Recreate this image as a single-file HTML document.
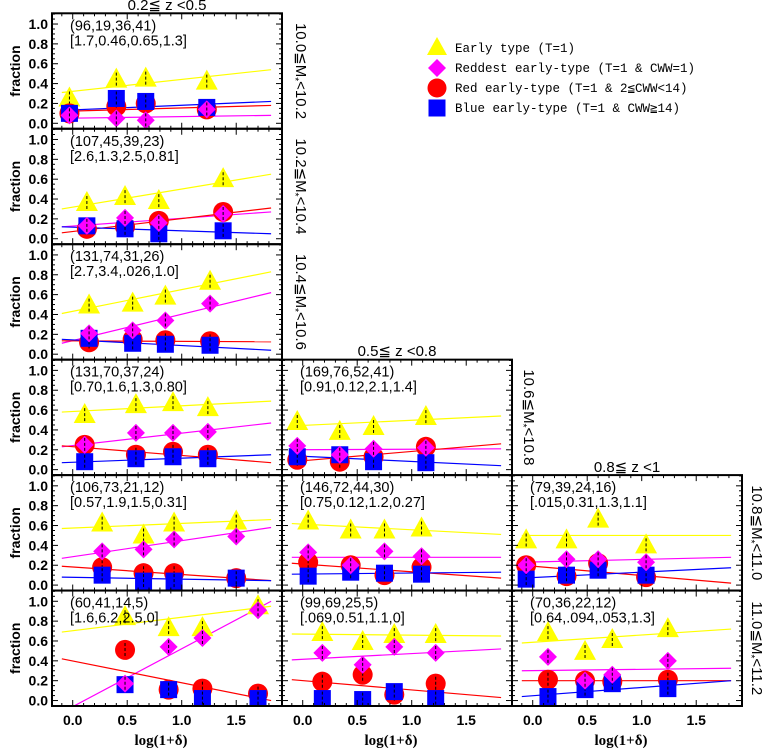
<!DOCTYPE html>
<html><head><meta charset="utf-8">
<style>
html,body{margin:0;padding:0;background:#fff;}
svg{display:block;font-family:"Liberation Sans","DejaVu Sans",sans-serif;}
.tk{font-weight:bold;font-size:14px;}
.ttl{font-weight:normal;font-size:15px;}
.ann{font-size:14.5px;}
.leg{font-family:"Liberation Mono","DejaVu Sans Mono",monospace;font-size:12.5px;}
</style></head>
<body>
<svg id="chart" width="767" height="750" viewBox="0 0 767 750" xmlns="http://www.w3.org/2000/svg"></svg>
<script>
// ---- data ----
const panelCols = [0,0,0,0,0,0,1,1,1,2,2];
const panelRows = [0,1,2,3,4,5,3,4,5,4,5];
const panelXs = [
 [-0.03,0.40,0.67,1.23],[0.13,0.48,0.79,1.38],[0.15,0.55,0.85,1.26],[0.11,0.58,0.92,1.24],
 [0.27,0.65,0.93,1.50],[0.48,0.88,1.19,1.70],
 [-0.05,0.34,0.65,1.13],[0.05,0.44,0.75,1.09],[0.18,0.55,0.84,1.22],
 [-0.06,0.31,0.60,1.04],[0.14,0.48,0.73,1.24]];
const earlyVals = [
 [0.25,0.44,0.45,0.42],[0.36,0.42,0.38,0.60],[0.49,0.51,0.58,0.73],[0.55,0.65,0.67,0.62],
 [0.62,0.50,0.62,0.64],[0.84,0.73,0.73,0.95],
 [0.48,0.38,0.43,0.53],[0.64,0.55,0.55,0.57],[0.68,0.59,0.66,0.66],
 [0.45,0.45,0.66,0.40],[0.68,0.49,0.61,0.72]];
const reddestVals = [
 [0.08,0.05,0.03,0.14],[0.13,0.21,0.16,0.25],[0.21,0.24,0.34,0.51],[0.25,0.37,0.37,0.38],
 [0.34,0.36,0.46,0.49],[0.17,0.54,0.63,0.91],
 [0.24,0.15,0.21,0.22],[0.33,0.20,0.34,0.29],[0.48,0.36,0.54,0.48],
 [0.20,0.26,0.26,0.23],[0.44,0.20,0.26,0.40]];
const redVals = [
 [0.10,0.17,0.20,0.14],[0.10,0.12,0.18,0.27],[0.12,0.15,0.14,0.13],[0.25,0.15,0.18,0.15],
 [0.18,0.12,0.12,0.07],[0.51,0.11,0.12,0.07],
 [0.10,0.08,0.13,0.23],[0.23,0.20,0.10,0.18],[0.19,0.26,0.06,0.17],
 [0.20,0.09,0.22,0.08],[0.21,0.20,0.19,0.21]];
const blueVals = [
 [0.10,0.25,0.22,0.16],[0.13,0.10,0.05,0.08],[0.16,0.11,0.10,0.09],[0.08,0.11,0.13,0.11],
 [0.10,0.04,0.04,0.07],[0.16,0.11,0.02,0.02],
 [0.13,0.15,0.08,0.07],[0.09,0.13,0.12,0.11],[0.02,0.01,0.09,0.02],
 [0.06,0.10,0.15,0.10],[0.04,0.11,0.17,0.12]];
// fit lines: value at x=-0.1 and x=1.82
const earlyFit = [[0.31,0.54],[0.30,0.65],[0.41,0.83],[0.58,0.69],[0.57,0.66],[0.69,0.95],[0.44,0.54],[0.62,0.51],[0.67,0.65],[0.50,0.50],[0.58,0.72]];
const reddestFit = [[0.05,0.08],[0.12,0.27],[0.11,0.62],[0.23,0.47],[0.27,0.58],[-0.12,1.0],[0.20,0.21],[0.28,0.28],[0.41,0.52],[0.23,0.28],[0.30,0.325]];
const redFit = [[0.12,0.18],[0.06,0.31],[0.135,0.125],[0.24,0.07],[0.19,0.045],[0.42,0.0],[0.08,0.26],[0.22,0.07],[0.21,0.03],[0.20,0.02],[0.20,0.20]];
const blueFit = [[0.13,0.22],[0.12,0.05],[0.15,0.04],[0.07,0.15],[0.08,0.045],null,[0.14,0.04],[0.11,0.13],null,[0.07,0.175],[0.04,0.20]];
const countLabels = ["(96,19,36,41)","(107,45,39,23)","(131,74,31,26)","(131,70,37,24)","(106,73,21,12)","(60,41,14,5)","(169,76,52,41)","(146,72,44,30)","(99,69,25,5)","(79,39,24,16)","(70,36,22,12)"];
const ratioLabels = ["[1.7,0.46,0.65,1.3]","[2.6,1.3,2.5,0.81]","[2.7,3.4,.026,1.0]","[0.70,1.6,1.3,0.80]","[0.57,1.9,1.5,0.31]","[1.6,6.2,2.5,0]","[0.91,0.12,2.1,1.4]","[0.75,0.12,1.2,0.27]","[.069,0.51,1.1,0]","[.015,0.31,1.3,1.1]","[0.64,.094,.053,1.3]"];
const yTicks = [0.0,0.2,0.4,0.6,0.8,1.0];
const xTicks = [0.0,0.5,1.0,1.5];
const massLabels = ["10.0≦M","10.2≦M","10.4≦M","10.6≦M","10.8≦M","11.0≦M"];
const massUpper = ["<10.2","<10.4","<10.6","<10.8","<11.0","<11.2"];
const errBar = 0.07;

// ---- layout ----
const svg = document.getElementById('chart');
const NS = 'http://www.w3.org/2000/svg';
const colLeft = [52,282,512], colW = 230;
const top0 = 13.3, rowH = 115.45;
const XMIN = -0.19, XMAX = 1.92, YMIN = -0.055, YMAX = 1.108;
function mk(tag, attrs, parent){const e=document.createElementNS(NS,tag);for(const k in attrs)e.setAttribute(k,attrs[k]);(parent||svg).appendChild(e);return e;}
function xs(c,v){return colLeft[c] + (v-XMIN)/(XMAX-XMIN)*colW;}
function ys(r,v){return top0 + (r+1)*rowH - (v-YMIN)/(YMAX-YMIN)*rowH;}

const defs = mk('defs',{});
const colors = ['#ffff00','#ff00ff','#ff0000','#0000ff'];

for(let p=0;p<panelCols.length;p++){
  const c=panelCols[p], r=panelRows[p];
  const g = mk('g',{});
  
  
  const cp = mk('clipPath',{id:'cp'+p},defs);
  mk('rect',{x:colLeft[c],y:top0+r*rowH,width:colW,height:rowH},cp);
  const pl = mk('g',{'clip-path':'url(#cp'+p+')'},g);
  const fits=[earlyFit[p],reddestFit[p],redFit[p],blueFit[p]];
  const fitNames=['early-fit-line','reddest-fit-line','red-fit-line','blue-fit-line'];
  fits.forEach((f,i)=>{ if(!f) return;
    const l=mk('line',{x1:xs(c,-0.1),y1:ys(r,f[0]),x2:xs(c,1.82),y2:ys(r,f[1]),stroke:colors[i],'stroke-width':1.2},pl);
    
    
  });
  const X=panelXs[p];
  const order=[0,2,3,1];
  const vals=[earlyVals[p],reddestVals[p],redVals[p],blueVals[p]];
  order.forEach(i=>{
    X.forEach((xv,j)=>{
      const cx=xs(c,xv), cy=ys(r,vals[i][j]);
      let m;
      if(i===0) m=mk('polygon',{points:`${cx},${cy-12} ${cx-11},${cy+8} ${cx+11},${cy+8}`,fill:colors[0]},pl);
      else if(i===1) m=mk('polygon',{points:`${cx},${cy-9} ${cx+9},${cy} ${cx},${cy+9} ${cx-9},${cy}`,fill:colors[1]},pl);
      else if(i===2) m=mk('circle',{cx:cx,cy:cy,r:10,fill:colors[2]},pl);
      else m=mk('rect',{x:cx-8.5,y:cy-8.5,width:17,height:17,fill:colors[3]},pl);
      
      
      const eb=mk('line',{x1:cx,x2:cx,y1:ys(r,vals[i][j]+errBar),y2:ys(r,vals[i][j]-errBar),stroke:'#000','stroke-width':1,'stroke-dasharray':'3,2'},pl);
      
      
    });
  });
  const fr=mk('rect',{x:colLeft[c],y:top0+r*rowH,width:colW,height:rowH,fill:'none',stroke:'#000','stroke-width':2},g);
  
  
  for(let v=0;v<=1.1001;v+=0.05){
    const big=Math.abs(v*5-Math.round(v*5))<1e-6, len=big?6:3, y=ys(r,v);
    mk('line',{x1:colLeft[c],x2:colLeft[c]+len,y1:y,y2:y,stroke:'#000'},g);
    mk('line',{x1:colLeft[c]+colW,x2:colLeft[c]+colW-len,y1:y,y2:y,stroke:'#000'},g);
  }
  for(let v=-0.1;v<=1.9;v+=0.1){
    const big=Math.abs(v*2-Math.round(v*2))<1e-6, len=big?6:3, x=xs(c,v);
    const yb=top0+(r+1)*rowH, yt=top0+r*rowH;
    mk('line',{x1:x,x2:x,y1:yb,y2:yb-len,stroke:'#000'},g);
    mk('line',{x1:x,x2:x,y1:yt,y2:yt+len,stroke:'#000'},g);
  }
  if(c===0){
    yTicks.forEach(v=>{
      const t=mk('text',{x:colLeft[0]-4,y:ys(r,v)+5,'text-anchor':'end',class:'tk'},g);
      t.textContent=v.toFixed(1);
      
      
    });
    const yt=mk('text',{x:0,y:0,class:'tk','text-anchor':'middle',transform:`translate(20,${top0+r*rowH+rowH/2}) rotate(-90)`},g);
    yt.textContent='fraction';
    
    
  }
  if(r===5){
    xTicks.forEach(v=>{
      const t=mk('text',{x:xs(c,v),y:725,'text-anchor':'middle',class:'tk'},g);
      t.textContent=v.toFixed(1);
      
      
    });
    const xt=mk('text',{x:colLeft[c]+colW/2-6,y:745,'text-anchor':'middle','font-family':'Liberation Serif, serif','font-weight':'bold','font-size':'15'},g);
    xt.textContent='log(1+δ)';
    
    
  }
  const a1=mk('text',{x:colLeft[c]+18,y:top0+r*rowH+17,class:'ann'},g);
  a1.textContent=countLabels[p];
  
  
  const a2=mk('text',{x:colLeft[c]+18,y:top0+r*rowH+32,class:'ann'},g);
  a2.textContent=ratioLabels[p];
  
  
}
const massX=[296,296,296,524,752,752];
for(let r=0;r<6;r++){
  const t=mk('text',{x:0,y:0,'text-anchor':'middle',class:'ttl',transform:`translate(${massX[r]},${top0+r*rowH+rowH/2}) rotate(90)`});
  t.innerHTML=massLabels[r]+'<tspan font-size="10" dy="4">*</tspan><tspan dy="-4">'+massUpper[r]+'</tspan>';
  
  
}
const zT=[['0.2≦ z <0.5',167,10],['0.5≦ z <0.8',397,356],['0.8≦ z <1',627,472]];
zT.forEach(z=>{
  const t=mk('text',{x:z[1],y:z[2],'text-anchor':'middle',class:'ttl'});
  t.textContent=z[0];
  
  
});
const legText=['Early type (T=1)','Reddest early-type (T=1 & CWW=1)','Red early-type  (T=1 & 2≦CWW<14)','Blue early-type (T=1 & CWW≧14)'];
const lg=mk('g',{});


legText.forEach((s,i)=>{
  const cx=437, cy=48+i*20;
  let m;
  if(i===0) m=mk('polygon',{points:`${cx},${cy-11} ${cx-10},${cy+7} ${cx+10},${cy+7}`,fill:colors[0]},lg);
  if(i===1) m=mk('polygon',{points:`${cx},${cy-9} ${cx+9},${cy} ${cx},${cy+9} ${cx-9},${cy}`,fill:colors[1]},lg);
  if(i===2) m=mk('circle',{cx:cx,cy:cy,r:9.5,fill:colors[2]},lg);
  if(i===3) m=mk('rect',{x:cx-8.5,y:cy-8.5,width:17,height:17,fill:colors[3]},lg);
  
  
  const t=mk('text',{x:455,y:cy+4,class:'leg','xml:space':'preserve'},lg);
  t.textContent=s;
  
  
});
</script>
</body></html>
